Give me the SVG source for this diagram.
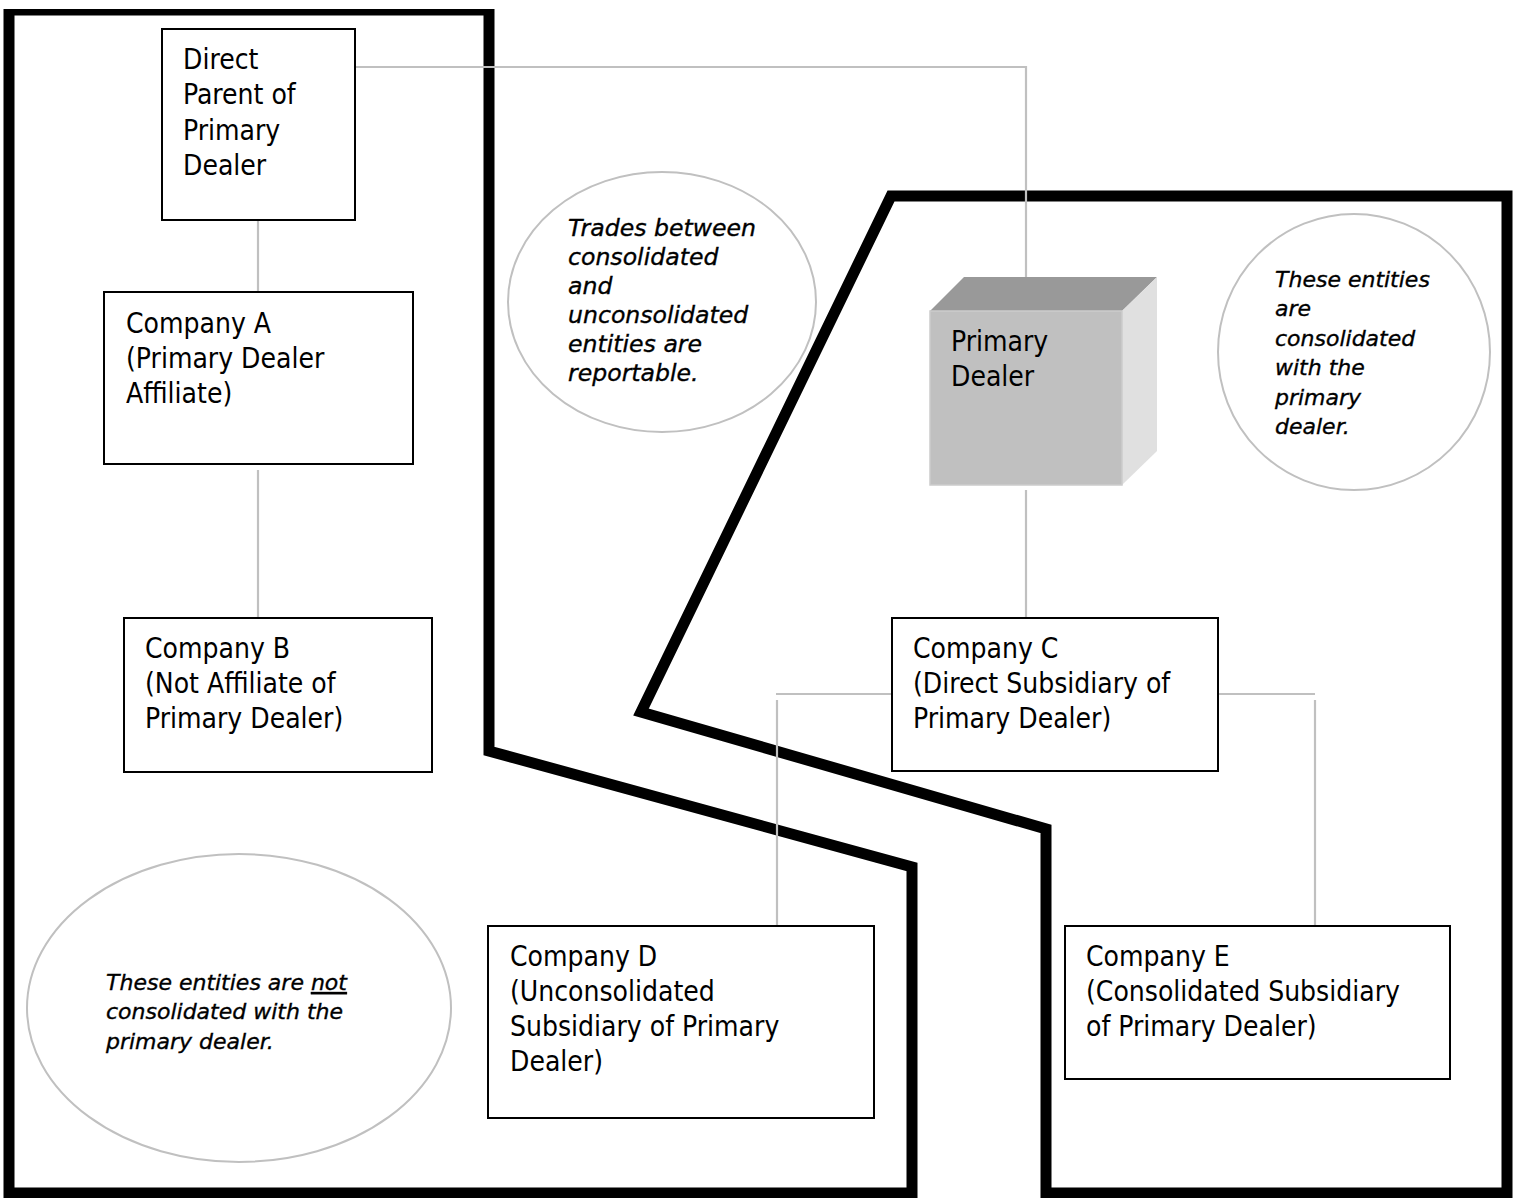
<svg xmlns="http://www.w3.org/2000/svg" width="1515" height="1198" viewBox="0 0 1515 1198">
<style>
.frame{fill:none;stroke:#000;stroke-width:11;stroke-linejoin:miter}
.box{fill:#fff;stroke:#000;stroke-width:2}
.conn{fill:none;stroke:#c0c0c0;stroke-width:2.2}
.oval{fill:#fff;stroke:#c0c0c0;stroke-width:2}
.t{font-family:"DejaVu Sans Condensed","DejaVu Sans",sans-serif;font-stretch:condensed;font-size:28px;fill:#000}
.i{font-family:"DejaVu Sans","Verdana",sans-serif;font-style:italic;font-size:22px;fill:#000;stroke:#000;stroke-width:0.35}
.big{font-size:23.6px}
</style>
<defs>
<clipPath id="clipTop"><rect x="0" y="9" width="1515" height="1189"/></clipPath>
</defs>
<rect x="0" y="0" width="1515" height="1198" fill="#fff"/>
<g id="regions" clip-path="url(#clipTop)">
<polygon class="frame" points="9,10 489,10 489,751 912,867 912,1193 9,1193"/>
<polygon class="frame" points="891,196 1507,196 1507,1193 1046,1193 1046,829 641,712"/>
</g>
<g id="connectors">
<polyline class="conn" points="355,67 1026,67 1026,278"/>
<line class="conn" x1="258" y1="220" x2="258" y2="292"/>
<line class="conn" x1="258" y1="470" x2="258" y2="618"/>
<line class="conn" x1="1026" y1="490" x2="1026" y2="618"/>
<line class="conn" x1="776" y1="694" x2="892" y2="694"/>
<line class="conn" x1="777" y1="700" x2="777" y2="930"/>
<line class="conn" x1="1218" y1="694" x2="1315" y2="694"/>
<line class="conn" x1="1315" y1="700" x2="1315" y2="930"/>
</g>
<g id="note-trades">
<ellipse class="oval" cx="662" cy="302" rx="154" ry="130"/>
<text class="i big"><tspan x="568" y="236">Trades between</tspan><tspan x="568" y="265">consolidated</tspan><tspan x="568" y="294">and</tspan><tspan x="568" y="323">unconsolidated</tspan><tspan x="568" y="352">entities are</tspan><tspan x="568" y="381">reportable.</tspan></text>
</g>
<g id="note-consolidated">
<ellipse class="oval" cx="1354" cy="352" rx="136" ry="138"/>
<text class="i"><tspan x="1275" y="287">These entities</tspan><tspan x="1275" y="316">are</tspan><tspan x="1275" y="346">consolidated</tspan><tspan x="1275" y="375">with the</tspan><tspan x="1275" y="405">primary</tspan><tspan x="1275" y="434">dealer.</tspan></text>
</g>
<g id="note-not-consolidated">
<ellipse class="oval" cx="239" cy="1008" rx="212" ry="154"/>
<text class="i"><tspan x="106" y="990">These entities are <tspan text-decoration="underline">not</tspan></tspan><tspan x="106" y="1019">consolidated with the</tspan><tspan x="106" y="1049">primary dealer.</tspan></text>
</g>
<g id="direct-parent">
<rect class="box" x="162" y="29" width="193" height="191"/>
<text class="t"><tspan x="183" y="69">Direct</tspan><tspan x="183" y="104">Parent of</tspan><tspan x="183" y="140">Primary</tspan><tspan x="183" y="175">Dealer</tspan></text>
</g>
<g id="company-a">
<rect class="box" x="104" y="292" width="309" height="172"/>
<text class="t"><tspan x="126" y="333">Company A</tspan><tspan x="126" y="368">(Primary Dealer</tspan><tspan x="126" y="403">Affiliate)</tspan></text>
</g>
<g id="company-b">
<rect class="box" x="124" y="618" width="308" height="154"/>
<text class="t"><tspan x="145" y="658">Company B</tspan><tspan x="145" y="693">(Not Affiliate of</tspan><tspan x="145" y="728">Primary Dealer)</tspan></text>
</g>
<g id="primary-dealer">
<polygon points="930,311 964,277 1157,277 1122,311" fill="#999999"/>
<polygon points="1122,311 1157,277 1157,451 1122,485" fill="#e0e0e0"/>
<rect x="930" y="311" width="192" height="174" fill="#c0c0c0" stroke="#cccccc" stroke-width="1.5"/>
<text class="t"><tspan x="951" y="351">Primary</tspan><tspan x="951" y="386">Dealer</tspan></text>
</g>
<g id="company-c">
<rect class="box" x="892" y="618" width="326" height="153"/>
<text class="t"><tspan x="913" y="658">Company C</tspan><tspan x="913" y="693">(Direct Subsidiary of</tspan><tspan x="913" y="728">Primary Dealer)</tspan></text>
</g>
<g id="company-d">
<rect class="box" x="488" y="926" width="386" height="192"/>
<text class="t"><tspan x="510" y="966">Company D</tspan><tspan x="510" y="1001">(Unconsolidated</tspan><tspan x="510" y="1036">Subsidiary of Primary</tspan><tspan x="510" y="1071">Dealer)</tspan></text>
</g>
<g id="company-e">
<rect class="box" x="1065" y="926" width="385" height="153"/>
<text class="t"><tspan x="1086" y="966">Company E</tspan><tspan x="1086" y="1001">(Consolidated Subsidiary</tspan><tspan x="1086" y="1036">of Primary Dealer)</tspan></text>
</g>
</svg>
